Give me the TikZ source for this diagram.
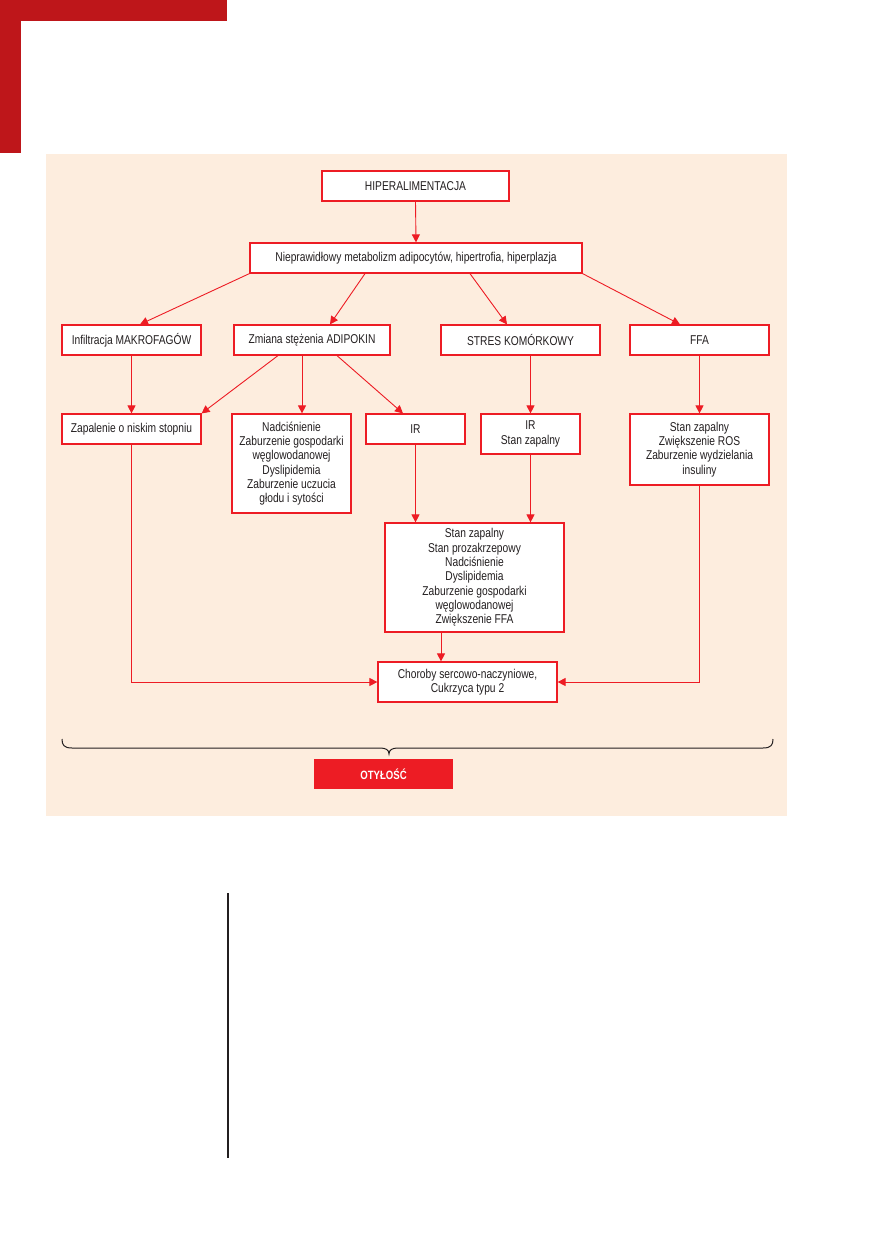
\documentclass[tikz,border=0pt]{standalone}
\usepackage{fontspec}
\setmainfont{Liberation Sans}[FakeStretch=0.8]
\usetikzlibrary{arrows.meta,positioning}
\definecolor{obRed}{RGB}{237,28,36}
\definecolor{obDark}{RGB}{190,22,26}
\definecolor{obPeach}{RGB}{253,237,222}
\definecolor{obText}{RGB}{35,31,32}

\begin{document}
\begin{tikzpicture}[
  x=1pt, y=-1pt,
  font=\fontsize{12.8}{14.3}\selectfont,
  box/.style={draw=obRed, fill=white, line width=1.2pt, align=center, inner sep=0pt, text=obText},
  arrow/.style={-{Triangle[length=8pt,width=8pt]}, draw=obRed, line width=0.9pt}
]
\useasboundingbox (0,0) rectangle (872,1233);

% page decoration
\fill[obDark] (0,0) rectangle (227,21);
\fill[obDark] (0,0) rectangle (21,153);
\fill[obPeach] (46,154) rectangle (787,816);
\draw[obText, line width=1.2pt] (228,893) -- (228,1158);

% boxes
\node[box, minimum width=187pt, minimum height=30pt] (hiper) at (415.5,186) {HIPERALIMENTACJA};
\node[box, minimum width=332pt, minimum height=30pt] (nieprawid) at (416,258) {Nieprawidłowy metabolizm adipocytów, hipertrofia, hiperplazja};

\node[box, minimum width=139pt, minimum height=30pt] (makro) at (131.5,340) {Infiltracja MAKROFAGÓW};
\node[box, minimum width=156pt, minimum height=30pt] (adipo) at (312,340) {Zmiana stężenia ADIPOKIN};
\node[box, minimum width=159pt, minimum height=30pt] (stres) at (520.5,340) {STRES KOMÓRKOWY};
\node[box, minimum width=139pt, minimum height=30pt] (ffa) at (699.5,340) {FFA};

\node[box, minimum width=139pt, minimum height=30pt] (zapal) at (131.5,429) {Zapalenie o niskim stopniu};
\node[box, minimum width=119pt, minimum height=99pt] (nadcis) at (291.5,463.5) {Nadciśnienie\\Zaburzenie gospodarki\\węglowodanowej\\Dyslipidemia\\Zaburzenie uczucia\\głodu i sytości};
\node[box, minimum width=99pt, minimum height=30pt] (ir) at (415.5,429) {IR};
\node[box, minimum width=99pt, minimum height=40pt] (irsz) at (530.5,434) {IR\\Stan zapalny};
\node[box, minimum width=139pt, minimum height=71pt] (ros) at (699.5,449.5) {Stan zapalny\\Zwiększenie ROS\\Zaburzenie wydzielania\\insuliny};

\node[box, minimum width=179pt, minimum height=109pt] (zbior) at (474.5,577.5) {Stan zapalny\\Stan prozakrzepowy\\Nadciśnienie\\Dyslipidemia\\Zaburzenie gospodarki\\węglowodanowej\\Zwiększenie FFA};
\node[box, minimum width=179pt, minimum height=40pt] (choroby) at (467.5,682) {Choroby sercowo-naczyniowe,\\Cukrzyca typu 2};

\node[fill=obRed, text=white, font=\fontsize{12}{14}\selectfont\bfseries, minimum width=139pt, minimum height=30pt, inner sep=0pt] (otylosc) at (383.5,774) {OTYŁOŚĆ};

% connectors
\draw[arrow] (hiper.south) -- (nieprawid.north);
\draw[arrow] (nieprawid.south west) -- ([xshift=8.5pt]makro.north);
\draw[arrow] ([xshift=-51pt]nieprawid.south) -- ([xshift=18pt]adipo.north);
\draw[arrow] ([xshift=54pt]nieprawid.south) -- ([xshift=-13.5pt]stres.north);
\draw[arrow] (nieprawid.south east) -- ([xshift=-19.5pt]ffa.north);

\draw[arrow] (makro.south) -- (zapal.north);
\draw[arrow] ([xshift=-34pt]adipo.south) -- (zapal.north east);
\draw[arrow] ([xshift=-10pt]adipo.south) -- ([xshift=-10pt]adipo.south |- nadcis.north);
\draw[arrow] ([xshift=25pt]adipo.south) -- ([xshift=-12.5pt]ir.north);
\draw[arrow] (irsz.north |- stres.south) -- (irsz.north);
\draw[arrow] (ffa.south) -- (ros.north);

\draw[arrow] (ir.south) -- (ir.south |- zbior.north);
\draw[arrow] (irsz.south) -- (irsz.south |- zbior.north);
\draw[arrow] ([xshift=-33.5pt]zbior.south) -- ([xshift=-33.5pt]zbior.south |- choroby.north);
\draw[arrow] (zapal.south) |- (choroby.west);
\draw[arrow] (ros.south) |- (choroby.east);

% brace
\draw[obText, line width=1pt] (62,739) .. controls (62,745) and (64,748) .. (72,748)
  -- (380,748) .. controls (386,748) and (389,750) .. (389,754)
  .. controls (389,750) and (392,748) .. (398,748)
  -- (763,748) .. controls (771,748) and (773,745) .. (773,739);
\end{tikzpicture}
\end{document}
